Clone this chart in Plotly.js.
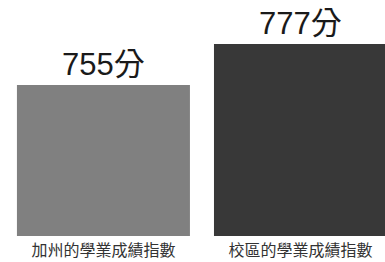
<!DOCTYPE html>
<html><head><meta charset="utf-8">
<script src="https://cdn.plot.ly/plotly-3.0.1.min.js"></script>
<style>html,body{margin:0;padding:0;background:#fff}#c{width:385px;height:262px}</style>
</head><body><div id="c"></div>
<script>
const categories = ["加州的學業成績指數", "校區的學業成績指數"];
const values = [755, 777];
const labels = ["755分", "777分"];
const colors = ["#808080", "#383838"];
const axisBase = 674;

Plotly.newPlot("c", [{
  type: "bar",
  x: categories,
  y: values.map(v => v - axisBase),
  base: axisBase,
  text: labels,
  textposition: "outside",
  cliponaxis: false,
  textfont: {family: "Liberation Sans, Arial, Noto Sans CJK TC", size: 31, color: "#1a1a1a"},
  marker: {color: colors},
  width: 0.878,
  hoverinfo: "none"
}], {
  width: 385, height: 262,
  margin: {l: 0, r: 0, t: 0, b: 26},
  paper_bgcolor: "#fff", plot_bgcolor: "#fff",
  showlegend: false,
  xaxis: {range: [-0.525, 1.429], showgrid: false, zeroline: false, showline: false, ticks: "",
          tickfont: {family: "Noto Sans CJK TC", size: 16, color: "#333"}, ticklabelstandoff: 3},
  yaxis: {range: [674, 800.6], visible: false, showgrid: false, zeroline: false},
  bargap: 0.12
}, {displayModeBar: false, staticPlot: true});
</script></body></html>
